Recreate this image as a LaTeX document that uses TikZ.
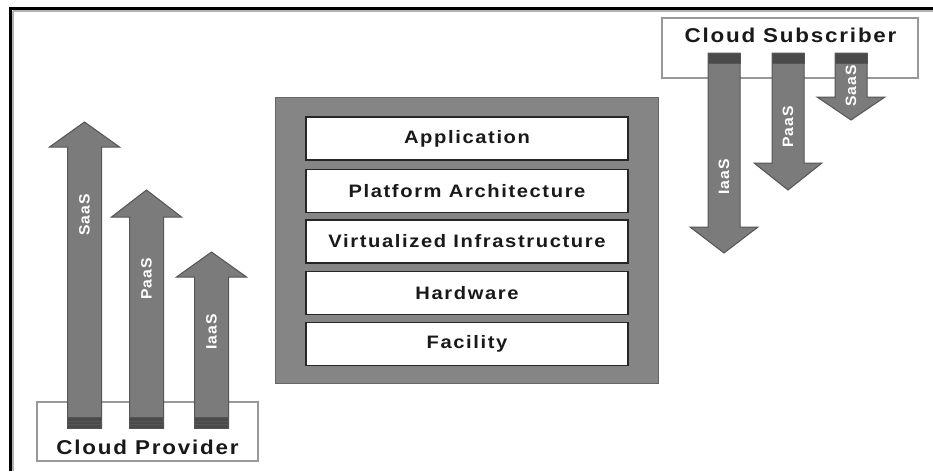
\documentclass[tikz,border=0pt]{standalone}
\usepackage{fontspec}
\setmainfont{Liberation Sans}
\newfontfamily\lblfont[LetterSpace=9,FakeStretch=1.12]{Liberation Sans}
\newfontfamily\arrfont[LetterSpace=6,FakeStretch=1.05]{Liberation Sans}
\begin{document}
\begin{tikzpicture}[x=1pt,y=-1pt]
\useasboundingbox (0,0) rectangle (933,471);
\definecolor{arrowgray}{HTML}{7B7B7B}
\definecolor{arrowedge}{HTML}{555555}
\definecolor{bandgray}{HTML}{4A4A4A}
\definecolor{stackgray}{HTML}{858585}
\tikzset{
  arrowbody/.style={fill=arrowgray, draw=arrowedge, line width=1pt, line join=miter},
  arrowband/.style={fill=bandgray, draw=arrowedge, line width=0.8pt},
  arrowlabel/.style={text=white, font=\arrfont\bfseries\fontsize{15}{15}\selectfont, rotate=90, inner sep=0pt},
  rolebox/.style={fill=white, draw=gray!80, line width=1.5pt},
  rolelabel/.style={font=\lblfont\bfseries\fontsize{20}{20}\selectfont, text=black!90, inner sep=0pt},
  layerbox/.style={fill=white, draw=black!85, line width=1.6pt, minimum width=322pt, minimum height=43pt, inner sep=0pt,
    font=\lblfont\bfseries\fontsize{18}{18}\selectfont, text=black!90},
}
% outer frame (top and left edges)
\draw[gray!60, line width=1.5pt] (13,11) -- (933,11);
\draw[gray!60, line width=1.5pt] (13,11) -- (13,471);
\draw[black, line width=3pt] (933,8) -- (10,8) -- (10,471);

% upward arrow: centre x, bottom y, tip y, head height
\newcommand{\uparr}[4]{%
  \draw[arrowbody] (#1-17,#2) -- (#1-17,#3+#4) -- (#1-35,#3+#4) -- (#1,#3) -- (#1+35,#3+#4) -- (#1+17,#3+#4) -- (#1+17,#2) -- cycle;
  \draw[arrowband] (#1-17,#2-11) rectangle (#1+17,#2);
  \draw[arrowgray!70!black, line width=0.8pt] (#1-17,#2-7) -- (#1+17,#2-7) (#1-17,#2-3.5) -- (#1+17,#2-3.5);
}
% downward arrow: centre x, top y, tip y, head height
\newcommand{\downarr}[4]{%
  \draw[arrowbody] (#1-16,#2) -- (#1-16,#3-#4) -- (#1-34,#3-#4) -- (#1,#3) -- (#1+34,#3-#4) -- (#1+16,#3-#4) -- (#1+16,#2) -- cycle;
  \draw[arrowband] (#1-16,#2) rectangle (#1+16,#2+10);
}

% provider side
\node[rolebox, minimum width=221pt, minimum height=59pt, inner sep=0pt] (provider) at (147.5,431.5) {};
\node[rolelabel] (providertext) at (147.5,447) {Cloud Provider};
\uparr{84.5}{428}{122}{25}
\uparr{146.5}{428}{190}{27}
\uparr{211.5}{428}{252}{25}
\node[arrowlabel] (psaas) at (84.5,215) {SaaS};
\node[arrowlabel] (ppaas) at (146.5,279) {PaaS};
\node[arrowlabel] (piaas) at (211.5,332) {IaaS};

% subscriber side
\node[rolebox, minimum width=256pt, minimum height=60pt, inner sep=0pt] (subscriber) at (790,48) {};
\node[rolelabel] (subscribertext) at (790.5,35.5) {Cloud Subscriber};
\downarr{724}{53}{253}{26}
\downarr{788}{53}{190}{27}
\downarr{851}{53}{120}{23}
\node[arrowlabel] (siaas) at (724,177) {IaaS};
\node[arrowlabel] (spaas) at (788,127) {PaaS};
\node[arrowlabel] (ssaas) at (851,86) {SaaS};

% layered stack
\node[fill=stackgray, draw=black!60, line width=1pt, minimum width=383pt, minimum height=286pt, inner sep=0pt] (stack) at (466.5,240) {};
\node[layerbox] (app) at (467,138.5) {Application};
\node[layerbox] (platform) at (467,191) {Platform Architecture};
\node[layerbox] (virt) at (467,241.5) {Virtualized Infrastructure};
\node[layerbox] (hw) at (467,293) {Hardware};
\node[layerbox] (facility) at (467,344) {Facility};
\end{tikzpicture}
\end{document}
